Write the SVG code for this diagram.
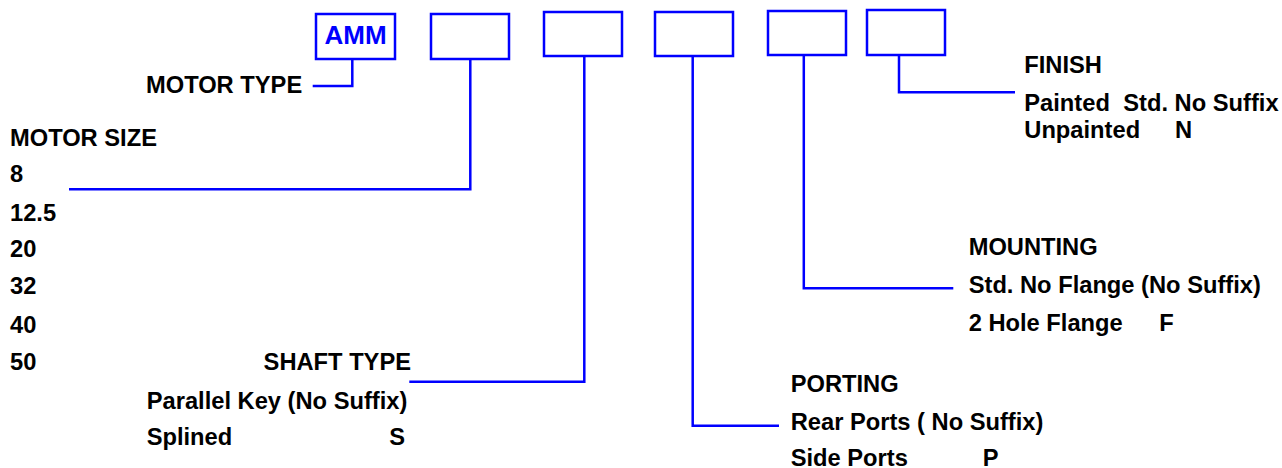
<svg xmlns="http://www.w3.org/2000/svg" width="1282" height="468" viewBox="0 0 1282 468">
<style>
.box{fill:#fff;stroke:#0000ff;stroke-width:2.5}
.ln{fill:none;stroke:#0000ff;stroke-width:2.5}
text{font-family:"Liberation Sans",Arial,sans-serif;font-weight:bold;font-size:23.7px;fill:#000}
.amm{fill:#0000ff;font-size:26px}
</style>
<rect width="1282" height="468" fill="#fff"/>
<g id="box-motor-type">
<rect class="box" x="316" y="14" width="79" height="45"/>
<text class="amm" x="355.5" y="44" text-anchor="middle">AMM</text>
</g>
<g id="box-motor-size"><rect class="box" x="431" y="14" width="78" height="45"/></g>
<g id="box-shaft-type"><rect class="box" x="544" y="12" width="78" height="44"/></g>
<g id="box-porting"><rect class="box" x="655" y="12" width="78" height="44"/></g>
<g id="box-mounting"><rect class="box" x="768" y="11" width="78" height="44"/></g>
<g id="box-finish"><rect class="box" x="867" y="10" width="78" height="45"/></g>
<g id="connectors">
<polyline class="ln" points="352.3,59 352.3,86 312.7,86"/>
<polyline class="ln" points="470.3,59 470.3,189.3 69,189.3"/>
<polyline class="ln" points="584.3,56 584.3,381.7 409.3,381.7"/>
<polyline class="ln" points="692.7,56 692.7,425.7 779,425.7"/>
<polyline class="ln" points="803.8,55 803.8,288.3 953.3,288.3"/>
<polyline class="ln" points="899,55 899,92.3 1015,92.3"/>
</g>
<g id="label-motor-type">
<text x="146" y="93.3">MOTOR TYPE</text>
</g>
<g id="label-motor-size">
<text x="10" y="146">MOTOR SIZE</text>
<text x="10" y="182.3">8</text>
<text x="10" y="220.5">12.5</text>
<text x="10" y="257.3">20</text>
<text x="10" y="294">32</text>
<text x="10" y="332.5">40</text>
<text x="10" y="370">50</text>
</g>
<g id="label-shaft-type">
<text x="411" y="370" text-anchor="end">SHAFT TYPE</text>
<text x="146.7" y="409">Parallel Key (No Suffix)</text>
<text x="146.7" y="445">Splined</text>
<text x="389.3" y="445">S</text>
</g>
<g id="label-porting">
<text x="790.7" y="391.7">PORTING</text>
<text x="790.7" y="430">Rear Ports ( No Suffix)</text>
<text x="790.7" y="466">Side Ports</text>
<text x="982.7" y="466">P</text>
</g>
<g id="label-mounting">
<text x="968.7" y="255">MOUNTING</text>
<text x="968.7" y="292.7">Std. No Flange (No Suffix)</text>
<text x="968.7" y="331">2 Hole Flange</text>
<text x="1159.3" y="331">F</text>
</g>
<g id="label-finish">
<text x="1024.3" y="73.3">FINISH</text>
<text x="1024.3" y="110.5">Painted</text>
<text x="1123.3" y="110.5">Std. No Suffix</text>
<text x="1024.3" y="138.3">Unpainted</text>
<text x="1175" y="138.3">N</text>
</g>
</svg>
